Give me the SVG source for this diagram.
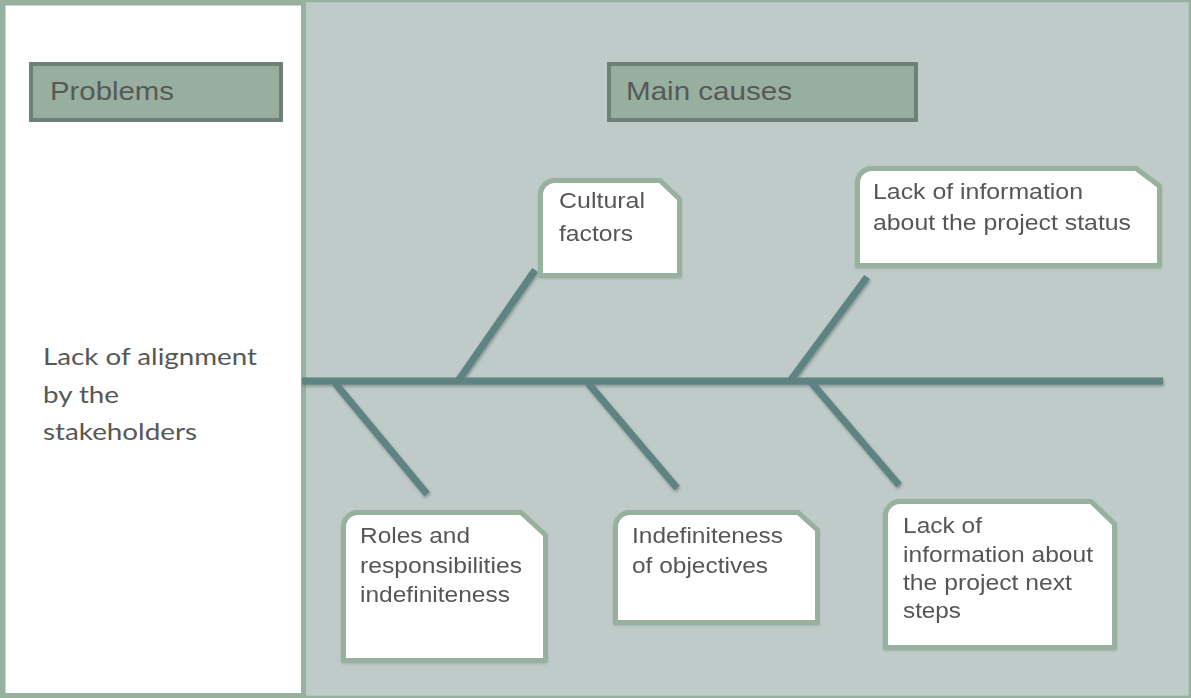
<svg xmlns="http://www.w3.org/2000/svg" width="1191" height="698" viewBox="0 0 1191 698">
  <style>
    .title-box { fill: #98ae9f; stroke: #6e8174; stroke-width: 4; }
    .title { font-family: "Liberation Sans", Arial, sans-serif; font-size: 26px; fill: #555a57; }
    .cause { fill: #ffffff; stroke: #98b09e; stroke-width: 5; stroke-linejoin: round; }
    .label { font-family: "Liberation Sans", Arial, sans-serif; font-size: 22px; fill: #575757; }
    .problem { font-family: Lato, "Open Sans", sans-serif; font-size: 23px; fill: #575757; }
    .bone { stroke: #5f8282; stroke-width: 7; stroke-linecap: butt; fill: none; }
  </style>
  <defs>
    <filter id="shade" x="-10%" y="-10%" width="120%" height="130%">
      <feDropShadow dx="1" dy="2" stdDeviation="1.5" flood-color="#3d4f4f" flood-opacity="0.45"/>
    </filter>
    <filter id="soft" x="-10%" y="-10%" width="120%" height="120%">
      <feDropShadow dx="0" dy="1" stdDeviation="1" flood-color="#6e8174" flood-opacity="0.35"/>
    </filter>
  </defs>

  <!-- canvas and frame -->
  <rect x="1" y="1" width="1189" height="696" fill="#bfcbc8" stroke="#98b09e" stroke-width="2.5"/>

  <!-- problem panel -->
  <g id="problem-panel">
    <rect x="3" y="3" width="300.5" height="692.5" fill="#ffffff" stroke="#98b09e" stroke-width="5"/>
  </g>

  <g id="problems-header">
    <rect class="title-box" x="31" y="64" width="250" height="56"/>
    <text class="title" x="50" y="100" textLength="124" lengthAdjust="spacingAndGlyphs">Problems</text>
  </g>

  <g id="causes-header">
    <rect class="title-box" x="609" y="64" width="307" height="56"/>
    <text class="title" x="626" y="100" textLength="166" lengthAdjust="spacingAndGlyphs">Main causes</text>
  </g>

  <g id="problem">
    <text class="problem" x="43" y="365" textLength="214" lengthAdjust="spacingAndGlyphs">Lack of alignment</text>
    <text class="problem" x="43" y="403" textLength="76" lengthAdjust="spacingAndGlyphs">by the</text>
    <text class="problem" x="43" y="440" textLength="154" lengthAdjust="spacingAndGlyphs">stakeholders</text>
  </g>

  <!-- fishbone connectors -->
  <g id="connectors" filter="url(#shade)">
    <line class="bone" x1="302" y1="381" x2="1163" y2="381"/>
    <line class="bone" x1="335" y1="383" x2="427" y2="494"/>
    <line class="bone" x1="458" y1="381" x2="535" y2="270"/>
    <line class="bone" x1="588" y1="383" x2="677" y2="488"/>
    <line class="bone" x1="790" y1="381" x2="867" y2="277"/>
    <line class="bone" x1="810" y1="381" x2="899" y2="485"/>
  </g>

  <!-- cause nodes -->
  <g id="cultural-factors" filter="url(#soft)">
    <path class="cause" d="M 555 180.5 H 660 L 679.5 199 V 275.5 H 540.5 V 195 A 14.5 14.5 0 0 1 555 180.5 Z"/>
    <text class="label" x="559" y="208" textLength="86" lengthAdjust="spacingAndGlyphs">Cultural</text>
    <text class="label" x="559" y="241" textLength="74" lengthAdjust="spacingAndGlyphs">factors</text>
  </g>

  <g id="project-status" filter="url(#soft)">
    <path class="cause" d="M 872 168.5 H 1136 L 1159.5 186 V 265.5 H 857.5 V 183 A 14.5 14.5 0 0 1 872 168.5 Z"/>
    <text class="label" x="873" y="199" textLength="210" lengthAdjust="spacingAndGlyphs">Lack of information</text>
    <text class="label" x="873" y="230" textLength="258" lengthAdjust="spacingAndGlyphs">about the project status</text>
  </g>

  <g id="roles" filter="url(#soft)">
    <path class="cause" d="M 358 512.5 H 521 L 545.5 535 V 660.5 H 343.5 V 527 A 14.5 14.5 0 0 1 358 512.5 Z"/>
    <text class="label" x="360" y="543" textLength="110" lengthAdjust="spacingAndGlyphs">Roles and</text>
    <text class="label" x="360" y="573" textLength="162" lengthAdjust="spacingAndGlyphs">responsibilities</text>
    <text class="label" x="360" y="602" textLength="150" lengthAdjust="spacingAndGlyphs">indefiniteness</text>
  </g>

  <g id="objectives" filter="url(#soft)">
    <path class="cause" d="M 630 512.5 H 798 L 817.5 530 V 622.5 H 615.5 V 527 A 14.5 14.5 0 0 1 630 512.5 Z"/>
    <text class="label" x="632" y="543" textLength="151" lengthAdjust="spacingAndGlyphs">Indefiniteness</text>
    <text class="label" x="632" y="573" textLength="136" lengthAdjust="spacingAndGlyphs">of objectives</text>
  </g>

  <g id="next-steps" filter="url(#soft)">
    <path class="cause" d="M 900 501.5 H 1091 L 1114.5 524 V 647.5 H 885.5 V 516 A 14.5 14.5 0 0 1 900 501.5 Z"/>
    <text class="label" x="903" y="533" textLength="79" lengthAdjust="spacingAndGlyphs">Lack of</text>
    <text class="label" x="903" y="562" textLength="190" lengthAdjust="spacingAndGlyphs">information about</text>
    <text class="label" x="903" y="590" textLength="169" lengthAdjust="spacingAndGlyphs">the project next</text>
    <text class="label" x="903" y="618" textLength="58" lengthAdjust="spacingAndGlyphs">steps</text>
  </g>
</svg>
